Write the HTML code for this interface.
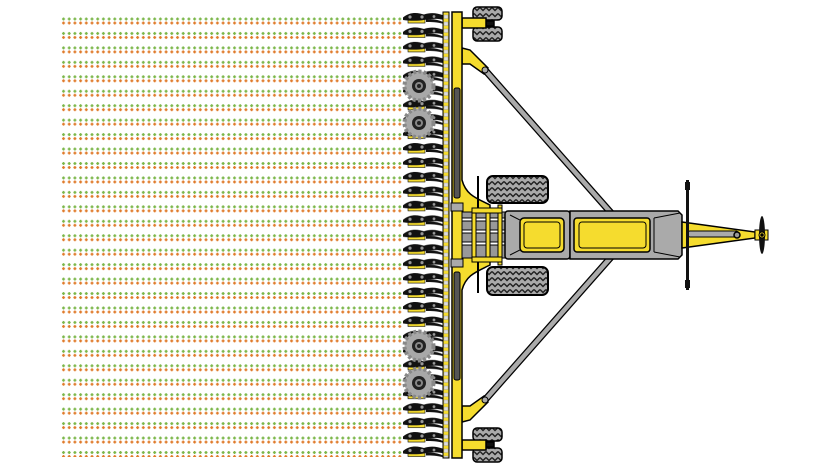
<!DOCTYPE html>
<html><head><style>body{margin:0;background:#fff}svg{display:block}</style></head>
<body>
<svg width="830" height="470" viewBox="0 0 830 470" xmlns="http://www.w3.org/2000/svg">
<defs>
<pattern id="dots" x="61" y="16" width="5.7" height="14.45" patternUnits="userSpaceOnUse">
<rect x="1" y="2.3" width="3" height="1.4" fill="#7ab648"/><rect x="1.8" y="1.5" width="1.4" height="3" fill="#7ab648"/>
<rect x="1" y="6.3" width="3" height="1.4" fill="#e07a2a"/><rect x="1.8" y="5.5" width="1.4" height="3" fill="#e07a2a"/>
</pattern>
<pattern id="tines" x="0" y="10.5" width="830" height="14.45" patternUnits="userSpaceOnUse">
<rect x="408" y="8.5" width="17" height="4" fill="#f5dc2e" stroke="#000" stroke-width="0.6"/>
<path d="M403,7 C410,1 418,2 424,4 C430,2 436,2 444,5 L444,9.5 C436,7.5 430,8.5 424,9.5 C418,10.5 410,10.5 403,9.5 Z" fill="#111"/>
<path d="M426,9 C432,8 438,9 444,12 L444,13.5 C437,11.5 431,11.5 426,11.5Z" fill="#111"/>
<circle cx="410" cy="6.5" r="1.6" fill="#999"/><circle cx="422" cy="6.5" r="1.6" fill="#999"/><circle cx="434" cy="6" r="1.4" fill="#999"/>
</pattern>
<pattern id="bar" x="443" y="12" width="6" height="7" patternUnits="userSpaceOnUse">
<rect width="6" height="7" fill="#f5dc2e"/><rect x="1" y="3" width="4" height="3.5" fill="#ddd" stroke="#999" stroke-width="0.4"/>
</pattern>
<pattern id="tread" width="6" height="6" patternUnits="userSpaceOnUse">
<rect width="6" height="6" fill="#aaa"/><path d="M0,1.5 L3,4.5 L6,1.5" stroke="#222" stroke-width="1.5" fill="none"/>
</pattern>
<g id="gear">
<circle r="14.5" fill="#a8a8a8" stroke="#888" stroke-width="4" stroke-dasharray="3 2.2"/>
<circle r="12" fill="#a8a8a8"/>
<circle r="7" fill="#222"/><circle r="4" fill="#888"/><circle r="2" fill="#222"/>
</g>
</defs>
<rect x="60" y="15" width="343" height="442" fill="url(#dots)"/>
<rect x="400" y="10" width="46" height="450" fill="url(#tines)"/>
<use href="#gear" x="419" y="86"/><use href="#gear" x="419" y="123"/>
<use href="#gear" x="419" y="346"/><use href="#gear" x="419" y="383"/>
<rect x="443" y="12" width="6" height="446" fill="url(#bar)" stroke="#000" stroke-width="1"/>
<g stroke="#000" stroke-width="7" stroke-linecap="round"><line x1="485" y1="70" x2="612" y2="214"/><line x1="485" y1="400" x2="612" y2="256"/></g>
<g stroke="#aaa" stroke-width="4.5" stroke-linecap="round"><line x1="485" y1="70" x2="612" y2="214"/><line x1="485" y1="400" x2="612" y2="256"/></g>
<g stroke="#000" stroke-width="1.5">
<rect x="473" y="7" width="29" height="13" rx="4" fill="url(#tread)"/><rect x="473" y="27" width="29" height="14" rx="4" fill="url(#tread)"/>
<rect x="473" y="428" width="29" height="13" rx="4" fill="url(#tread)"/><rect x="473" y="448" width="29" height="14" rx="4" fill="url(#tread)"/>
<rect x="486" y="21" width="8" height="5" fill="#111"/><rect x="486" y="442" width="8" height="5" fill="#111"/>
<rect x="462" y="18" width="24" height="10" fill="#f5dc2e"/><rect x="462" y="440" width="24" height="10" fill="#f5dc2e"/>
<path d="M462,48 L470,50 L488,68 L484,74 L470,64 L462,64Z" fill="#f5dc2e"/>
<path d="M462,422 L470,420 L488,402 L484,396 L470,406 L462,406Z" fill="#f5dc2e"/>
</g>
<circle cx="485" cy="70" r="3" fill="#aaa" stroke="#000"/><circle cx="485" cy="400" r="3" fill="#aaa" stroke="#000"/>
<path d="M452,12 L462,12 L462,180 C466,195 476,198 490,205 L490,265 C476,272 466,275 462,290 L462,458 L452,458Z" fill="#f5dc2e" stroke="#000" stroke-width="1.5"/>
<rect x="454" y="88" width="6" height="110" rx="2" fill="#555" stroke="#000"/><rect x="454" y="272" width="6" height="108" rx="2" fill="#555" stroke="#000"/>
<rect x="451" y="203" width="12" height="8" fill="#aaa" stroke="#000"/><rect x="451" y="259" width="12" height="8" fill="#aaa" stroke="#000"/>
<line x1="478" y1="176" x2="478" y2="293" stroke="#000" stroke-width="2"/>
<rect x="487" y="176" width="61" height="27" rx="6" fill="url(#tread)" stroke="#000" stroke-width="2"/>
<rect x="487" y="267" width="61" height="28" rx="6" fill="url(#tread)" stroke="#000" stroke-width="2"/>
<g stroke="#000" stroke-width="1">
<rect x="462" y="212" width="45" height="46" fill="#999"/>
<rect x="462" y="218" width="45" height="3" fill="#fff"/><rect x="462" y="230" width="45" height="3" fill="#fff"/><rect x="462" y="242" width="45" height="3" fill="#fff"/>
<rect x="472" y="208" width="4" height="54" fill="#f5dc2e"/><rect x="486" y="208" width="4" height="54" fill="#f5dc2e"/><rect x="498" y="205" width="4" height="60" fill="#f5dc2e"/>
<rect x="472" y="208" width="30" height="5" fill="#f5dc2e"/><rect x="472" y="257" width="30" height="5" fill="#f5dc2e"/>
</g>
<g stroke="#000" stroke-width="1.5">
<rect x="505" y="211" width="65" height="48" rx="3" fill="#aaa"/>
<path d="M510,215 L520,220 L520,250 L510,255" fill="none" stroke-width="1"/>
<rect x="520" y="218" width="44" height="34" rx="4" fill="#f5dc2e"/><rect x="524" y="222" width="36" height="26" rx="3" fill="none" stroke-width="1"/>
<path d="M570,211 L678,211 L682,215 L682,255 L678,259 L570,259Z" fill="#aaa"/>
<rect x="574" y="218" width="76" height="34" rx="3" fill="#f5dc2e"/><rect x="579" y="222" width="67" height="26" rx="3" fill="none" stroke-width="1"/>
<path d="M654,218 L680,213 M654,252 L680,257 M654,218 L654,252" fill="none" stroke-width="1"/>
<path d="M682,222 L755,232 L755,238 L682,248Z" fill="#f5dc2e"/>
<rect x="688" y="231" width="50" height="6" rx="2" fill="#aaa" stroke-width="1"/>
<circle cx="737" cy="235" r="3" fill="#999"/>
<rect x="755" y="230" width="13" height="10" fill="#f5dc2e" stroke-width="1"/>
<ellipse cx="762" cy="235" rx="3" ry="19" fill="#111" stroke="none"/>
<circle cx="762" cy="235" r="3" fill="#f5dc2e" stroke-width="1"/><circle cx="762" cy="235" r="1" fill="#000"/>
</g>
<rect x="686" y="180" width="3" height="110" fill="#111"/>
<rect x="685" y="182" width="5" height="8" fill="#111"/><rect x="685" y="280" width="5" height="8" fill="#111"/>
</svg>
</body></html>
